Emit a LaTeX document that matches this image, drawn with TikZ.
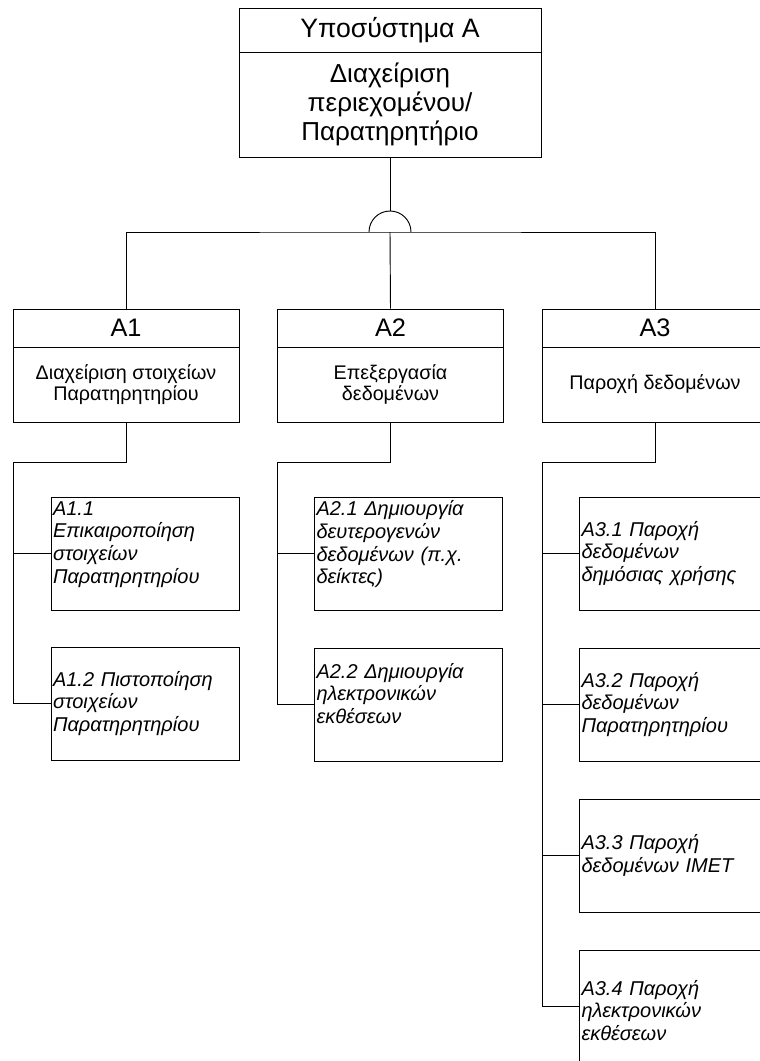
\documentclass[tikz,border=0pt]{standalone}
\usepackage{fontspec}
\setmainfont{Liberation Sans}
\begin{document}
\begin{tikzpicture}[x=0.75pt,y=0.75pt,line width=0.7pt,
  title/.style={draw,inner sep=0,align=center,font=\fontsize{19.5}{22}\selectfont},
  head/.style={draw,inner sep=0,minimum width=169.5pt,minimum height=28.5pt,font=\fontsize{19}{21}\selectfont},
  sub/.style={draw,inner sep=0,minimum width=169.5pt,minimum height=56.25pt,align=center,font=\fontsize{14.8}{16}\selectfont},
  leaf/.style={draw,inner xsep=1.5pt,inner ysep=0,minimum width=141pt,minimum height=84.75pt,text width=138pt,align=left,font=\fontsize{15}{17}\selectfont\itshape}]
  \useasboundingbox (0,0) rectangle (760,-1061);
  \clip (0,0) rectangle (760,-1061);

  \node[title,minimum width=226.5pt,minimum height=33pt,font=\fontsize{20}{22}\selectfont] (SysH) at (390,-30) {Υποσύστημα A};
  \node[title,minimum width=226.5pt,minimum height=78.75pt] (SysB) at (390,-104.5) {Διαχείριση\\περιεχομένου/\\Παρατηρητήριο};

  \node[head] (A1h) at (126,-328) {A1};
  \node[sub] (A1b) at (126,-384.5) {Διαχείριση στοιχείων\\Παρατηρητηρίου};
  \node[head] (A2h) at (390.5,-328) {A2};
  \node[sub] (A2b) at (390.5,-384.5) {Επεξεργασία\\δεδομένων};
  \node[head] (A3h) at (655,-328) {A3};
  \node[sub] (A3b) at (655,-384.5) {Παροχή δεδομένων};

  \node[leaf] (A11) at (145,-553.5) {A1.1\\Επικαιροποίηση\\στοιχείων\\Παρατηρητηρίου\\\mbox{}};
  \node[leaf] (A12) at (145,-703.5) {A1.2 Πιστοποίηση\\στοιχείων\\Παρατηρητηρίου};
  \node[leaf] (A21) at (408.5,-553.5) {A2.1 Δημιουργία\\δευτερογενών\\δεδομένων (π.χ.\\δείκτες)\\\mbox{}};
  \node[leaf] (A22) at (408.5,-704.5) {A2.2 Δημιουργία\\ηλεκτρονικών\\εκθέσεων\\\mbox{}};
  \node[leaf] (A31) at (673.5,-553.5) {A3.1 Παροχή\\δεδομένων\\δημόσιας χρήσης};
  \node[leaf] (A32) at (673.5,-704.5) {A3.2 Παροχή\\δεδομένων\\Παρατηρητηρίου\\[8pt]};
  \node[leaf] (A33) at (673.5,-855.5) {A3.3 Παροχή\\δεδομένων IMET};
  \node[leaf] (A34) at (673.5,-1006.5) {\mbox{}\\A3.4 Παροχή\\ηλεκτρονικών\\εκθέσεων};

  \coordinate (top) at (390,-211);
  \coordinate (bus) at (390,-232);
  \coordinate (A1rail) at (13,-462);
  \coordinate (A2rail) at (277,-462);
  \coordinate (A3rail) at (542,-462);

  \draw (SysB) -- (top);
  \draw (bus) ++(-21,0) arc (180:0:21);
  \draw (A1h.north) |- (bus) -| (A3h.north);
  \draw (bus) -- (A2h.north);

  \draw (A1b.south) |- (A1rail) |- (A12.west);
  \draw (A1rail) |- (A11.west);
  \draw (A2b.south) |- (A2rail) |- (A22.west);
  \draw (A2rail) |- (A21.west);
  \draw (A3b.south) |- (A3rail) |- (A34.west);
  \draw (A3rail) |- (A31.west);
  \draw (A3rail) |- (A32.west);
  \draw (A3rail) |- (A33.west);
\end{tikzpicture}
\end{document}
